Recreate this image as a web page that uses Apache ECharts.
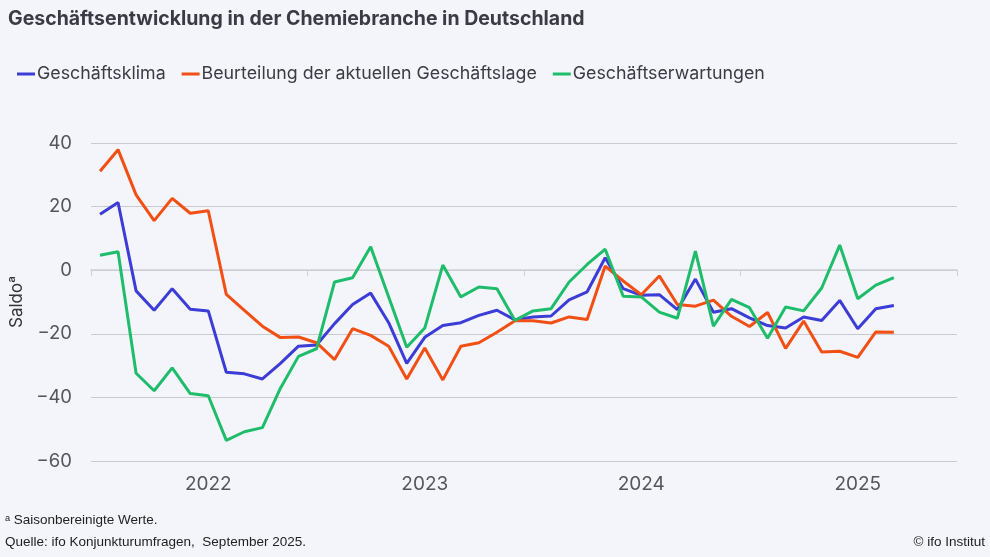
<!DOCTYPE html>
<html>
<head>
<meta charset="utf-8">
<script src="https://cdn.jsdelivr.net/npm/echarts@6/dist/echarts.min.js"></script>
<style>
html,body{margin:0;padding:0;background:#f4f5fa;}
#c{width:990px;height:557px;}
</style>
</head>
<body>
<div id="c"></div>
<script>
// Months Jan 2022 .. Dec 2025
const categories = [];
for (let y = 2022; y <= 2025; y++) {
  for (let m = 1; m <= 12; m++) categories.push(y + '-' + String(m).padStart(2, '0'));
}
const seriesNames = ['Geschäftsklima', 'Beurteilung der aktuellen Geschäftslage', 'Geschäftserwartungen'];
const klima = [17.6, 21.3, -6.5, -12.6, -5.8, -12.3, -12.8, -32.1, -32.6, -34.2, -29.3, -23.9,
  -23.5, -16.8, -10.8, -7.2, -16.5, -29.3, -21.1, -17.4, -16.5, -14.2, -12.6, -15.6,
  -14.7, -14.4, -9.3, -6.8, 3.9, -5.8, -7.9, -7.7, -12.4, -2.8, -13.2, -12.1,
  -15.0, -17.4, -18.2, -14.7, -15.8, -9.5, -18.4, -12.1, -11.1];
const lage = [31.1, 37.9, 23.7, 15.6, 22.6, 17.9, 18.7, -7.6, -12.6, -17.6, -21.2, -21.0,
  -22.8, -28.1, -18.4, -20.5, -23.9, -34.2, -24.5, -34.5, -23.9, -22.8, -19.5, -15.9,
  -15.9, -16.6, -14.7, -15.5, 1.3, -3.4, -7.7, -1.8, -10.8, -11.3, -9.4, -14.5,
  -17.7, -13.3, -24.6, -16.0, -25.7, -25.5, -27.4, -19.4, -19.5];
const erwartungen = [4.7, 5.8, -32.4, -37.9, -30.7, -38.8, -39.5, -53.5, -50.8, -49.5, -37.1, -27.1,
  -24.7, -3.7, -2.4, 7.4, -8.4, -24.2, -18.2, 1.6, -8.4, -5.3, -5.8, -15.8,
  -12.8, -12.1, -3.7, 1.8, 6.6, -8.2, -8.4, -13.2, -15.1, 6.0, -17.6, -9.2,
  -11.8, -21.4, -11.6, -12.8, -5.6, 7.9, -9.0, -4.7, -2.3];
const yTicks = [-60, -40, -20, 0, 20, 40];
const colors = ['#3c3cd6', '#f24f14', '#1fbd6b'];

const chart = echarts.init(document.getElementById('c'));
const mkSeries = (name, data, color) => ({
  name, type: 'line', data, showSymbol: false, symbol: 'none',
  lineStyle: { width: 3, color }, itemStyle: { color }, z: 3
});
chart.setOption({
  backgroundColor: '#f4f5fa',
  animation: false,
  textStyle: { fontFamily: 'Inter' },
  title: {
    text: 'Geschäftsentwicklung in der Chemiebranche in Deutschland',
    left: 3, top: 4,
    textStyle: { fontFamily: 'Inter', fontSize: 19.5, fontWeight: 'bold', color: '#3b3b45' }
  },
  legend: {
    left: 12, top: 60,
    icon: 'rect', itemWidth: 18, itemHeight: 3, itemGap: 16,
    textStyle: { fontFamily: 'Inter', fontSize: 17.8, color: '#3b3b45', padding: [0, 0, 0, -3] },
    data: seriesNames
  },
  grid: { left: 91, right: 33, top: 143, bottom: 96 },
  xAxis: {
    type: 'category', data: categories, boundaryGap: true,
    axisLine: { show: true, lineStyle: { color: '#cfd0d6', width: 1.5 } },
    axisTick: { show: true, length: 6, interval: (i) => i % 12 === 0, lineStyle: { color: '#cfd0d6' } },
    axisLabel: {
      interval: (i) => i % 12 === 6,
      formatter: (v) => v.slice(0, 4),
      fontFamily: 'Inter', fontSize: 19, color: '#55555e', margin: 14
    },
    splitLine: { show: false }
  },
  yAxis: {
    type: 'value', min: yTicks[0], max: yTicks[yTicks.length - 1], interval: 20,
    name: 'Saldoᵃ', nameLocation: 'middle', nameGap: 64, nameRotate: 90,
    nameTextStyle: { fontFamily: 'Inter', fontSize: 17, color: '#33333b' },
    axisLine: { show: false }, axisTick: { show: false },
    axisLabel: {
      fontFamily: 'Inter', fontSize: 18.5, color: '#55555e', margin: 19,
      formatter: (v) => (v < 0 ? '\u2212' + Math.abs(v) : String(v))
    },
    splitLine: { lineStyle: { color: '#c9cad0', width: 1 } }
  },
  series: [
    mkSeries(seriesNames[0], klima, colors[0]),
    mkSeries(seriesNames[1], lage, colors[1]),
    mkSeries(seriesNames[2], erwartungen, colors[2])
  ],
  graphic: [
    { type: 'text', left: 5, top: 513, style: { text: 'ᵃ Saisonbereinigte Werte.', font: '13.5px "Liberation Sans"', fill: '#222' } },
    { type: 'text', left: 5, top: 535, style: { text: 'Quelle: ifo Konjunkturumfragen,  September 2025.', font: '13.5px "Liberation Sans"', fill: '#222' } },
    { type: 'text', right: 5, top: 535, style: { text: '© ifo Institut', font: '13.5px "Liberation Sans"', fill: '#222' } }
  ]
});
</script>
</body>
</html>
